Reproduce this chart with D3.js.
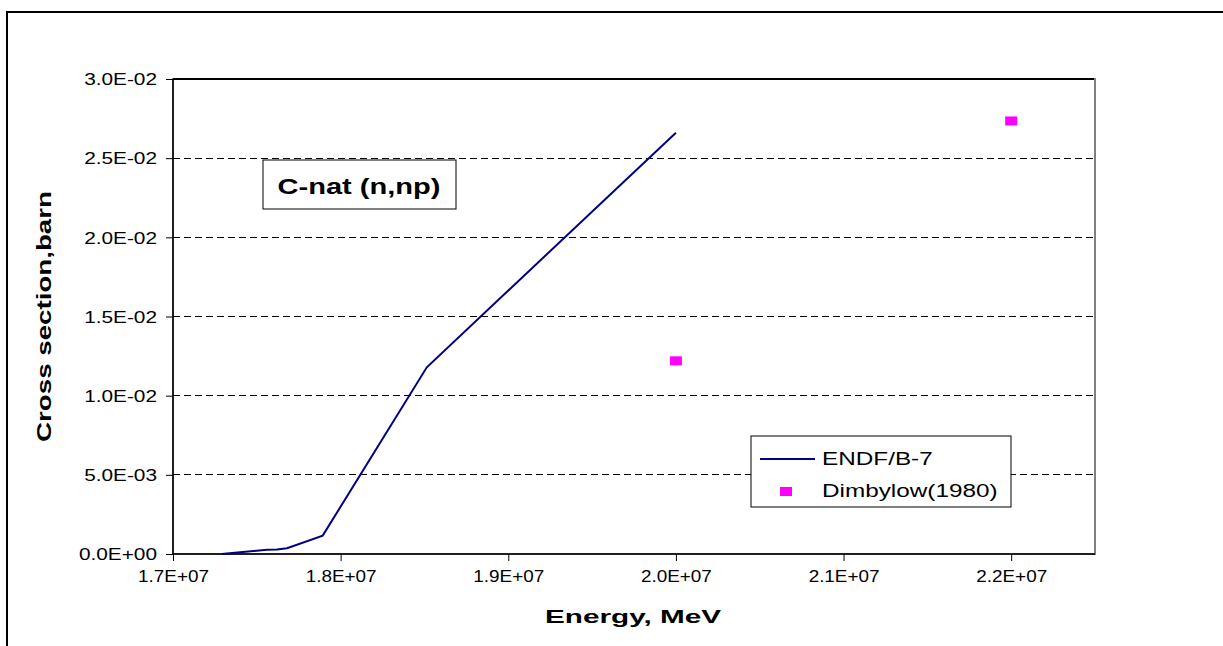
<!DOCTYPE html>
<html>
<head>
<meta charset="utf-8">
<script src="https://cdn.jsdelivr.net/npm/d3@7"></script>
<style>
  html, body { margin: 0; padding: 0; background: #fff; }
  svg { display: block; font-family: Arial, "Liberation Sans", sans-serif; }
</style>
</head>
<body>
<svg id="chart" width="1223" height="646"></svg>
<script>
// ENDF/B-7 evaluated cross section (energy in eV, cross section in barn)
const endfEnergy = [1.7290e7, 1.7560e7, 1.7620e7, 1.7680e7, 1.7893e7, 1.8514e7, 2.0000e7];
const endfSigma  = [0.0, 2.7e-4, 2.8e-4, 3.6e-4, 1.16e-3, 1.179e-2, 2.661e-2];

// Dimbylow (1980) measurements
const dimbEnergy = [2.0e7, 2.2e7];
const dimbSigma  = [1.22e-2, 2.735e-2];

// Axis ticks
const xTicks = [1.7e7, 1.8e7, 1.9e7, 2.0e7, 2.1e7, 2.2e7];
const xTickLabels = ["1.7E+07", "1.8E+07", "1.9E+07", "2.0E+07", "2.1E+07", "2.2E+07"];
const yTicks = [0, 0.005, 0.01, 0.015, 0.02, 0.025, 0.03];
const yTickLabels = ["0.0E+00", "5.0E-03", "1.0E-02", "1.5E-02", "2.0E-02", "2.5E-02", "3.0E-02"];

const seriesNames = ["ENDF/B-7", "Dimbylow(1980)"];

const FONT = "Arial, 'Liberation Sans', sans-serif";

const svg = d3.select("#chart");

// outer chart frame
svg.append("rect")
  .attr("x", 7).attr("y", 12)
  .attr("width", 1240).attr("height", 660)
  .attr("fill", "#fff").attr("stroke", "#000").attr("stroke-width", 2);

const plot = { left: 173, top: 79, right: 1095, bottom: 554 };

const x = d3.scaleLinear().domain([1.7e7, 2.25e7]).range([plot.left, plot.right]);
const y = d3.scaleLinear().domain([0, 0.03]).range([plot.bottom, plot.top]);

// plot area border
svg.append("rect")
  .attr("x", plot.left).attr("y", plot.top)
  .attr("width", plot.right - plot.left).attr("height", plot.bottom - plot.top)
  .attr("fill", "#fff").attr("stroke", "#808080").attr("stroke-width", 2);

// horizontal gridlines
svg.append("g")
  .selectAll("line")
  .data(yTicks.filter(v => v > 0 && v < 0.03))
  .join("line")
  .attr("x1", plot.left).attr("x2", plot.right)
  .attr("y1", d => y(d)).attr("y2", d => y(d))
  .attr("stroke", "#000").attr("stroke-width", 1)
  .attr("stroke-dasharray", "7,4")
  .attr("shape-rendering", "crispEdges");

// top gridline drawn solid
svg.append("line")
  .attr("x1", plot.left).attr("x2", plot.right - 1)
  .attr("y1", y(0.03)).attr("y2", y(0.03))
  .attr("stroke", "#000").attr("stroke-width", 1.2)
  .attr("shape-rendering", "crispEdges");

// y axis
const yAxis = d3.axisLeft(y)
  .tickValues(yTicks)
  .tickFormat((d, i) => yTickLabels[i])
  .tickSize(7)
  .tickPadding(9);
const gy = svg.append("g").attr("transform", `translate(${plot.left},0)`).call(yAxis);
gy.select(".domain").attr("stroke", "#000").attr("stroke-width", 1.5).attr("d", `M0,${plot.top}V${plot.bottom}`);
gy.selectAll(".tick line").attr("stroke", "#000");
gy.selectAll(".tick text")
  .attr("font-size", 16).attr("fill", "#000").attr("font-family", FONT)
  .attr("dy", "0.36em")
  .attr("data-widen", 1.3);

// x axis
const xAxis = d3.axisBottom(x)
  .tickValues(xTicks)
  .tickFormat((d, i) => xTickLabels[i])
  .tickSize(7)
  .tickPadding(12);
const gx = svg.append("g").attr("transform", `translate(0,${plot.bottom})`).call(xAxis);
gx.select(".domain").attr("stroke", "#000").attr("stroke-width", 1.5).attr("d", `M${plot.left},0H${plot.right}`);
gx.selectAll(".tick line").attr("stroke", "#000");
gx.selectAll(".tick text")
  .attr("font-size", 16).attr("fill", "#000").attr("font-family", FONT)
  .attr("dy", "0.55em")
  .attr("data-widen", 1.18);

// axis titles
svg.append("text")
  .attr("x", 633).attr("y", 623)
  .attr("text-anchor", "middle")
  .attr("font-size", 19).attr("font-weight", "bold")
  .attr("textLength", 176).attr("lengthAdjust", "spacingAndGlyphs")
  .text("Energy, MeV");

svg.append("text")
  .attr("transform", `translate(51,${(plot.top + plot.bottom) / 2}) rotate(-90)`)
  .attr("text-anchor", "middle")
  .attr("font-size", 20).attr("font-weight", "bold")
  .attr("textLength", 251).attr("lengthAdjust", "spacingAndGlyphs")
  .text("Cross section,barn");

// ENDF/B-7 curve
const endfData = endfEnergy.map((e, i) => [e, endfSigma[i]]);
svg.append("path")
  .datum(endfData)
  .attr("fill", "none")
  .attr("stroke", "#000080")
  .attr("stroke-width", 2)
  .attr("d", d3.line().x(d => x(d[0])).y(d => y(d[1])));

// Dimbylow points
const dimbData = dimbEnergy.map((e, i) => [e, dimbSigma[i]]);
svg.append("g")
  .selectAll("rect")
  .data(dimbData)
  .join("rect")
  .attr("x", d => x(d[0]) - 6).attr("y", d => y(d[1]) - 4.5)
  .attr("width", 12).attr("height", 9)
  .attr("fill", "#ff00ff");

// reaction label box
const lbl = svg.append("g");
lbl.append("rect")
  .attr("x", 263).attr("y", 160).attr("width", 193).attr("height", 49)
  .attr("fill", "#fff").attr("stroke", "#000").attr("stroke-width", 1);
lbl.append("text")
  .attr("x", 359).attr("y", 194)
  .attr("text-anchor", "middle")
  .attr("font-size", 22).attr("font-weight", "bold")
  .attr("data-widen", 1.32)
  .text("C-nat (n,np)");

// legend
const leg = svg.append("g");
leg.append("rect")
  .attr("x", 751).attr("y", 436).attr("width", 260).attr("height", 71)
  .attr("fill", "#fff").attr("stroke", "#000").attr("stroke-width", 1);
leg.append("line")
  .attr("x1", 760).attr("x2", 815).attr("y1", 459).attr("y2", 459)
  .attr("stroke", "#000080").attr("stroke-width", 2);
leg.append("rect")
  .attr("x", 780).attr("y", 487).attr("width", 12).attr("height", 9)
  .attr("fill", "#ff00ff");
leg.selectAll("text.item")
  .data(seriesNames)
  .join("text")
  .attr("class", "item")
  .attr("x", 822)
  .attr("y", (d, i) => 465 + i * 32)
  .attr("font-size", 18)
  .attr("data-widen", 1.35)
  .text(d => d);

// stretch the lettering horizontally by each label's factor
svg.selectAll("text[data-widen]").each(function () {
  const k = +this.getAttribute("data-widen");
  const w = this.getComputedTextLength();
  d3.select(this).attr("textLength", w * k).attr("lengthAdjust", "spacingAndGlyphs");
});
</script>
</body>
</html>
